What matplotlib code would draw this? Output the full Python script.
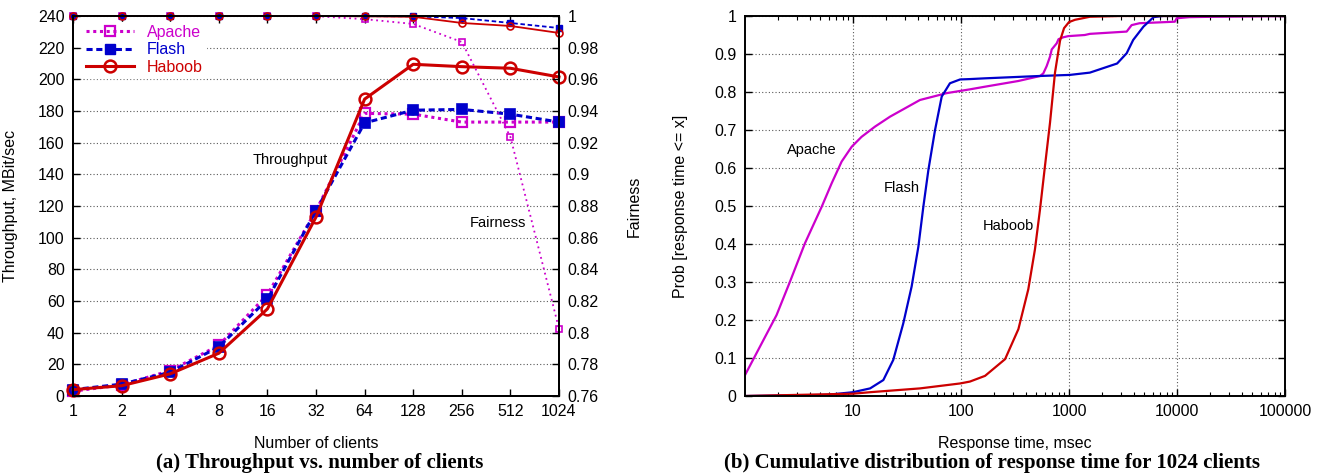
import matplotlib
matplotlib.use("Agg")
import matplotlib.pyplot as plt
from matplotlib.ticker import FuncFormatter, LogLocator, NullFormatter
from matplotlib.lines import Line2D

# ---------------- data ----------------
clients = ["1", "2", "4", "8", "16", "32", "64", "128", "256", "512", "1024"]

apache_tput = [3, 7, 16, 32, 64, 117, 178.5, 178, 173, 173, 173]
flash_tput = [4, 7.5, 15, 31, 61, 117, 172.5, 180.5, 181, 178, 173]
haboob_tput = [4, 6.5, 14, 27, 55, 113, 187.5, 209.5, 208, 207, 201.5]

apache_fair = [1.0, 1.0, 1.0, 1.0, 1.0, 0.9999, 0.998, 0.995, 0.9836, 0.9236, 0.8025]
flash_fair = [1.0, 1.0, 1.0, 1.0, 1.0, 1.0, 0.9999, 0.9998, 0.9987, 0.9956, 0.9924]
haboob_fair = [1.0, 1.0, 1.0, 1.0, 1.0, 1.0, 0.9998, 0.9995, 0.9956, 0.9937, 0.9893]

apache_cdf_x = [1, 1.96, 2.61, 3.59, 5.13, 6.35, 7.85, 9.73, 12.0, 16.0, 22.0, 41.7, 73.6,
                121, 167, 340, 436, 539, 578, 621, 667, 692, 769, 800, 885, 983, 1400,
                1560, 3420, 3800, 4500, 9550, 9930, 13000, 21600, 100000]
apache_cdf_y = [0.055, 0.213, 0.301, 0.402, 0.498, 0.56, 0.617, 0.656, 0.682, 0.709, 0.735,
                0.779, 0.797, 0.807, 0.814, 0.829, 0.836, 0.842, 0.849, 0.868, 0.893, 0.912,
                0.928, 0.939, 0.944, 0.947, 0.95, 0.953, 0.959, 0.976, 0.981, 0.985, 0.994,
                0.997, 0.998, 1.0]

flash_cdf_x = [1, 5.7, 10, 14.4, 19.1, 23.6, 29.2, 34.9, 40.3, 44.8, 49.9, 57.5, 66.3, 79,
               98, 121, 167, 520, 1020, 1560, 1940, 2790, 3420, 3930, 4890, 6070, 7400,
               100000]
flash_cdf_y = [0.0, 0.003, 0.01, 0.02, 0.042, 0.095, 0.191, 0.288, 0.393, 0.498, 0.595,
               0.70, 0.788, 0.823, 0.833, 0.834, 0.836, 0.842, 0.845, 0.851, 0.86, 0.875,
               0.902, 0.937, 0.972, 0.997, 1.0, 1.0]

haboob_cdf_x = [1, 10, 14.4, 41.7, 98, 121, 167, 256, 340, 420, 484, 539, 599, 667, 742,
                826, 900, 1000, 1136, 1560, 3000, 100000]
haboob_cdf_y = [0.0, 0.006, 0.01, 0.02, 0.033, 0.038, 0.053, 0.097, 0.176, 0.281, 0.386,
                0.491, 0.605, 0.719, 0.851, 0.935, 0.968, 0.984, 0.99, 0.998, 1.0, 1.0]

# ---------------- style ----------------
MAG = "#cc00cc"
BLUE = "#0000cc"
RED = "#cc0000"
plt.rcParams["font.family"] = ["Liberation Sans", "DejaVu Sans"]
plt.rcParams["font.size"] = 11.5
GRID = dict(color="0.35", linestyle=(0, (1, 2)), linewidth=0.8)

fig = plt.figure(figsize=(13.2, 4.76), dpi=100)

# ---------------- left panel ----------------
ax = fig.add_axes([73 / 1320, 1 - 396 / 476, 486 / 1320, 380 / 476])
ax2 = ax.twinx()
xs = list(range(len(clients)))

ax.plot(xs, apache_tput, color=MAG, linestyle=(0, (1, 1.2)), linewidth=2.2,
        marker="s", markersize=7, markerfacecolor="none", markeredgewidth=1.6,
        zorder=3, clip_on=False)
ax.plot(xs, flash_tput, color=BLUE, linestyle=(0, (2, 1.2)), linewidth=2.2,
        marker="s", markersize=7.5, markerfacecolor=BLUE, markeredgewidth=1.2,
        zorder=3, clip_on=False)
ax.plot(xs, haboob_tput, color=RED, linestyle="-", linewidth=2.2,
        marker="o", markersize=8.5, markerfacecolor="none", markeredgewidth=1.8,
        zorder=4, clip_on=False)

ax2.plot(xs, apache_fair, color=MAG, linestyle=(0, (1, 2)), linewidth=1.3,
         marker="s", markersize=4.5, markerfacecolor="none", markeredgewidth=1.2,
         clip_on=False)
ax2.plot(xs, flash_fair, color=BLUE, linestyle=(0, (2.5, 1.5)), linewidth=1.3,
         marker="s", markersize=5, markerfacecolor=BLUE, markeredgewidth=1.0,
         clip_on=False)
ax2.plot(xs, haboob_fair, color=RED, linestyle="-", linewidth=1.3,
         marker="o", markersize=5, markerfacecolor="none", markeredgewidth=1.2,
         clip_on=False)

ax.set_xlim(0, len(clients) - 1)
ax.set_ylim(0, 240)
ax2.set_ylim(0.76, 1.0)
ax.set_xticks(xs)
ax.set_xticklabels(clients)
ax.set_yticks(range(0, 241, 20))
ax2.set_yticks([0.76 + 0.02 * i for i in range(13)])
ax2.yaxis.set_major_formatter(FuncFormatter(lambda v, p: "%g" % round(v, 2)))
ax.yaxis.grid(True, **GRID)
ax.set_axisbelow(True)
for a in (ax, ax2):
    for s in a.spines.values():
        s.set_linewidth(1.4)
ax.tick_params(direction="in", length=5, width=1, top=True, pad=6)
ax2.tick_params(direction="in", length=5, width=1, pad=6)

ax.set_xlabel("Number of clients")
ax.xaxis.set_label_coords(0.5, -0.105)
ax.set_ylabel("Throughput, MBit/sec")
ax.yaxis.set_label_coords(-0.113, 0.5)
ax2.set_ylabel("Fairness")
ax2.yaxis.set_label_coords(1.14, 0.5)

ax.text(4.46, 149, "Throughput", ha="center", va="center", fontsize=10.5)
ax.text(8.74, 109, "Fairness", ha="center", va="center", fontsize=10.5)

handles = [
    Line2D([], [], color=MAG, linestyle=(0, (1, 1.2)), linewidth=2.2, marker="s",
           markersize=7, markerfacecolor="none", markeredgewidth=1.6),
    Line2D([], [], color=BLUE, linestyle=(0, (2, 1.2)), linewidth=2.2, marker="s",
           markersize=7.5, markerfacecolor=BLUE),
    Line2D([], [], color=RED, linestyle="-", linewidth=2.2, marker="o",
           markersize=8.5, markerfacecolor="none", markeredgewidth=1.8),
]
leg = ax2.legend(handles, ["Apache", "Flash", "Haboob"], loc="upper left",
                 bbox_to_anchor=(0.02, 0.985), frameon=True, framealpha=1,
                 edgecolor="white", facecolor="white", handlelength=3.0,
                 handletextpad=0.8, labelspacing=0.15, borderpad=0.2,
                 fontsize=11.5, borderaxespad=0)
leg.set_zorder(10)
for t, c in zip(leg.get_texts(), [MAG, BLUE, RED]):
    t.set_color(c)

# ---------------- right panel ----------------
bx = fig.add_axes([745 / 1320, 1 - 396 / 476, 540 / 1320, 380 / 476])
bx.plot(apache_cdf_x, apache_cdf_y, color=MAG, linewidth=1.6)
bx.plot(flash_cdf_x, flash_cdf_y, color=BLUE, linewidth=1.6)
bx.plot(haboob_cdf_x, haboob_cdf_y, color=RED, linewidth=1.6)
bx.set_xscale("log")
bx.set_xlim(1, 100000)
bx.set_ylim(0, 1)
bx.set_xticks([10, 100, 1000, 10000, 100000])
bx.set_xticklabels(["10", "100", "1000", "10000", "100000"])
bx.xaxis.set_minor_locator(LogLocator(base=10, subs=range(2, 10), numticks=20))
bx.xaxis.set_minor_formatter(NullFormatter())
bx.set_yticks([i / 10 for i in range(11)])
bx.yaxis.set_major_formatter(FuncFormatter(lambda v, p: "%g" % round(v, 1)))
bx.grid(True, which="major", **GRID)
bx.set_axisbelow(True)
for s in bx.spines.values():
    s.set_linewidth(1.4)
bx.tick_params(which="major", direction="in", length=5, width=1, top=True, right=True, pad=6)
bx.tick_params(which="minor", direction="in", length=3, width=0.8, top=True, right=True)
bx.set_xlabel("Response time, msec")
bx.xaxis.set_label_coords(0.5, -0.105)
bx.set_ylabel("Prob [response time <= x]")
bx.yaxis.set_label_coords(-0.105, 0.5)

bx.text(4.17, 0.647, "Apache", ha="center", va="center", fontsize=10.5)
bx.text(28.4, 0.547, "Flash", ha="center", va="center", fontsize=10.5)
bx.text(272, 0.447, "Haboob", ha="center", va="center", fontsize=10.5)

# ---------------- captions ----------------
fig.text(320 / 1320, 1 - 463 / 476, "(a) Throughput vs. number of clients",
         ha="center", va="center", fontsize=15, fontweight="bold",
         family=["Liberation Serif", "DejaVu Serif"])
fig.text(992 / 1320, 1 - 463 / 476,
         "(b) Cumulative distribution of response time for 1024 clients",
         ha="center", va="center", fontsize=15, fontweight="bold",
         family=["Liberation Serif", "DejaVu Serif"])

fig.savefig("out.png", dpi=100)
